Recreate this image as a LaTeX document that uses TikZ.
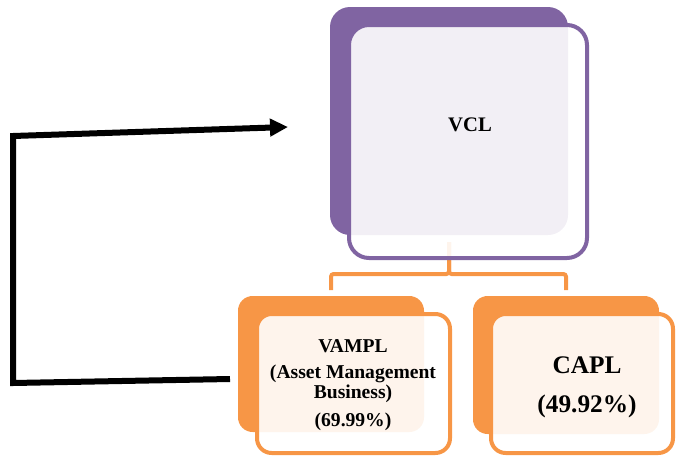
\documentclass[tikz,border=0pt]{standalone}
\usepackage{fontspec}
\setmainfont{Liberation Serif}
\usetikzlibrary{arrows.meta}
\definecolor{vclpurple}{HTML}{8064A2}
\definecolor{suborange}{HTML}{F79646}
\tikzset{
  backbox/.style={draw=none, inner sep=0pt, outer sep=0pt},
  frontbox/.style={line width=3pt, fill=white, fill opacity=0.9, inner sep=0pt, outer sep=0pt},
  label/.style={font=\bfseries, inner sep=0pt, align=center},
  link/.style={suborange, line width=3pt, rounded corners=2pt, shorten <=5.25pt, shorten >=4.5pt}
}
\begin{document}
\begin{tikzpicture}[x=0.75pt, y=-0.75pt]
\useasboundingbox (0,0) rectangle (676,458);
% back boxes
\node[backbox, fill=vclpurple, rounded corners=15pt, minimum width=178.5pt, minimum height=171pt] (vclback) at (449,121) {};
\node[backbox, fill=suborange, rounded corners=11pt, minimum width=139.5pt, minimum height=102pt] (vamplback) at (331,364) {};
\node[backbox, fill=suborange, rounded corners=11pt, minimum width=139.5pt, minimum height=103.5pt] (caplback) at (566,365) {};
% tree lines
\draw[link] (vclback.south) -- ++(0,39) -| (vamplback.north);
\draw[link] (vclback.south) -- ++(0,39) -| (caplback.north);
% front boxes
\node[frontbox, draw=vclpurple, rounded corners=15pt, minimum width=178.5pt, minimum height=174.75pt] (vclfront) at (468,141.5) {};
\node[frontbox, draw=suborange, rounded corners=11pt, minimum width=144.75pt, minimum height=104.25pt] (vamplfront) at (353.5,383.5) {};
\node[frontbox, draw=suborange, rounded corners=11pt, minimum width=136.5pt, minimum height=104.25pt] (caplfront) at (582,383.5) {};
% texts
\node[label, font=\bfseries\fontsize{15.5}{18}\selectfont, anchor=base] (vcl) at (470,131) {VCL};
\node[label, font=\bfseries\fontsize{14.7}{15}\selectfont] (vampl) at (353,385) {VAMPL\\[4.5pt](Asset Management\\Business)\\[6.5pt](69.99\%)};
\node[label, font=\bfseries\fontsize{19}{29.25}\selectfont] (capl) at (587,387) {CAPL\\(49.92\%)};
% loop arrow
\coordinate (loopin) at (230,379);
\coordinate (loopbl) at (13,383);
\coordinate (looptl) at (13,136);
\coordinate (loopout) at (288,127);
\draw[line width=4.5pt, -{Triangle[length=13.5pt, width=12.75pt]}] (loopin) -- (loopbl) -- (looptl) -- (loopout);
\end{tikzpicture}
\end{document}
